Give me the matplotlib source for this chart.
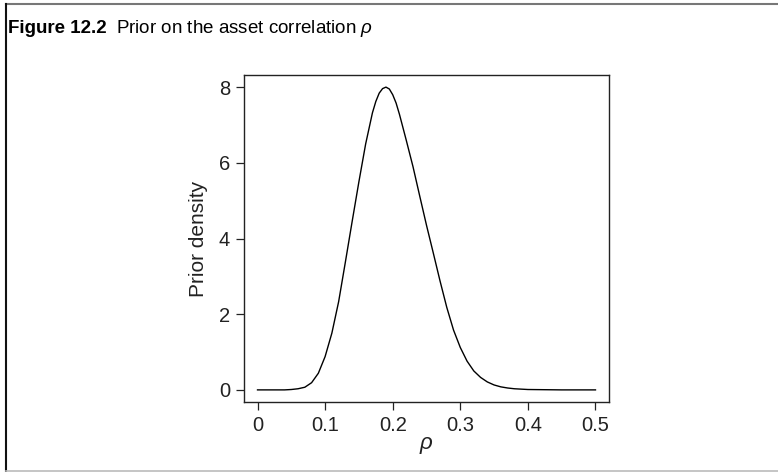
import matplotlib
matplotlib.use("Agg")
import matplotlib.pyplot as plt
from matplotlib.lines import Line2D

plt.rcParams['font.family'] = ['Liberation Sans', 'DejaVu Sans']
plt.rcParams['mathtext.fontset'] = 'custom'
plt.rcParams['mathtext.it'] = 'Liberation Sans:italic'
plt.rcParams['mathtext.rm'] = 'Liberation Sans'

rho = [0.00, 0.02, 0.04, 0.05, 0.06, 0.07, 0.08, 0.09, 0.10, 0.11, 0.12, 0.13,
       0.14, 0.15, 0.16, 0.17, 0.175, 0.18, 0.185, 0.19, 0.195, 0.20, 0.205, 0.21,
       0.22, 0.23, 0.24, 0.25, 0.26, 0.27, 0.28, 0.29, 0.30, 0.31, 0.32, 0.33,
       0.34, 0.35, 0.36, 0.37, 0.38, 0.40, 0.45, 0.50]
density = [0.00, 0.00, 0.00, 0.01, 0.03, 0.07, 0.19, 0.44, 0.88, 1.50, 2.33, 3.38,
           4.45, 5.50, 6.50, 7.32, 7.62, 7.84, 7.96, 8.00, 7.95, 7.80, 7.58, 7.28,
           6.60, 5.90, 5.12, 4.35, 3.62, 2.88, 2.18, 1.58, 1.12, 0.76, 0.50, 0.33,
           0.21, 0.13, 0.08, 0.05, 0.03, 0.01, 0.00, 0.00]
xticks = [0, 0.1, 0.2, 0.3, 0.4, 0.5]
xticklabels = ["0", "0.1", "0.2", "0.3", "0.4", "0.5"]
yticks = [0, 2, 4, 6, 8]

fig = plt.figure(figsize=(7.78, 4.72), dpi=100)
ax = fig.add_axes([244/778, 1-402/472, (609-244)/778, (402-75)/472])
ax.plot(rho, density, color='black', lw=1.0)
ax.set_xlim(-0.02, 0.52)
ax.set_ylim(-0.32, 8.32)
ax.set_xticks(xticks)
ax.set_xticklabels(xticklabels)
ax.set_yticks(yticks)
for s in ax.spines.values():
    s.set_linewidth(1.0)
    s.set_color('#222222')
ax.tick_params(direction='out', length=6, width=0.9, color='#222222',
               labelsize=14.5, labelcolor='#222222', pad=4)
ax.set_xlabel(r'$\rho$', fontsize=16, color='#222222', labelpad=0)
ax.set_ylabel('Prior density', fontsize=15, color='#222222', labelpad=8)

t1 = fig.text(8/778, 1-33/472, 'Figure 12.2', fontsize=13.5, fontweight='bold',
              ha='left', va='baseline')
fig.canvas.draw()
r = fig.canvas.get_renderer()
bb = t1.get_window_extent(renderer=r)
fig.text((bb.x1 + 9)/778, 1-33/472, r'Prior on the asset correlation $\rho$',
         fontsize=13.5, ha='left', va='baseline')

fig.add_artist(Line2D([6/778, 1], [1-4/472, 1-4/472], color='#777777', lw=1.5,
                      transform=fig.transFigure))
fig.add_artist(Line2D([6/778, 6/778], [1-4/472, 1-471/472], color='#111111', lw=1.5,
                      transform=fig.transFigure))
fig.add_artist(Line2D([6/778, 1], [1-471/472, 1-471/472], color='#bbbbbb', lw=1.2,
                      transform=fig.transFigure))

fig.savefig('out.png', dpi=100)
